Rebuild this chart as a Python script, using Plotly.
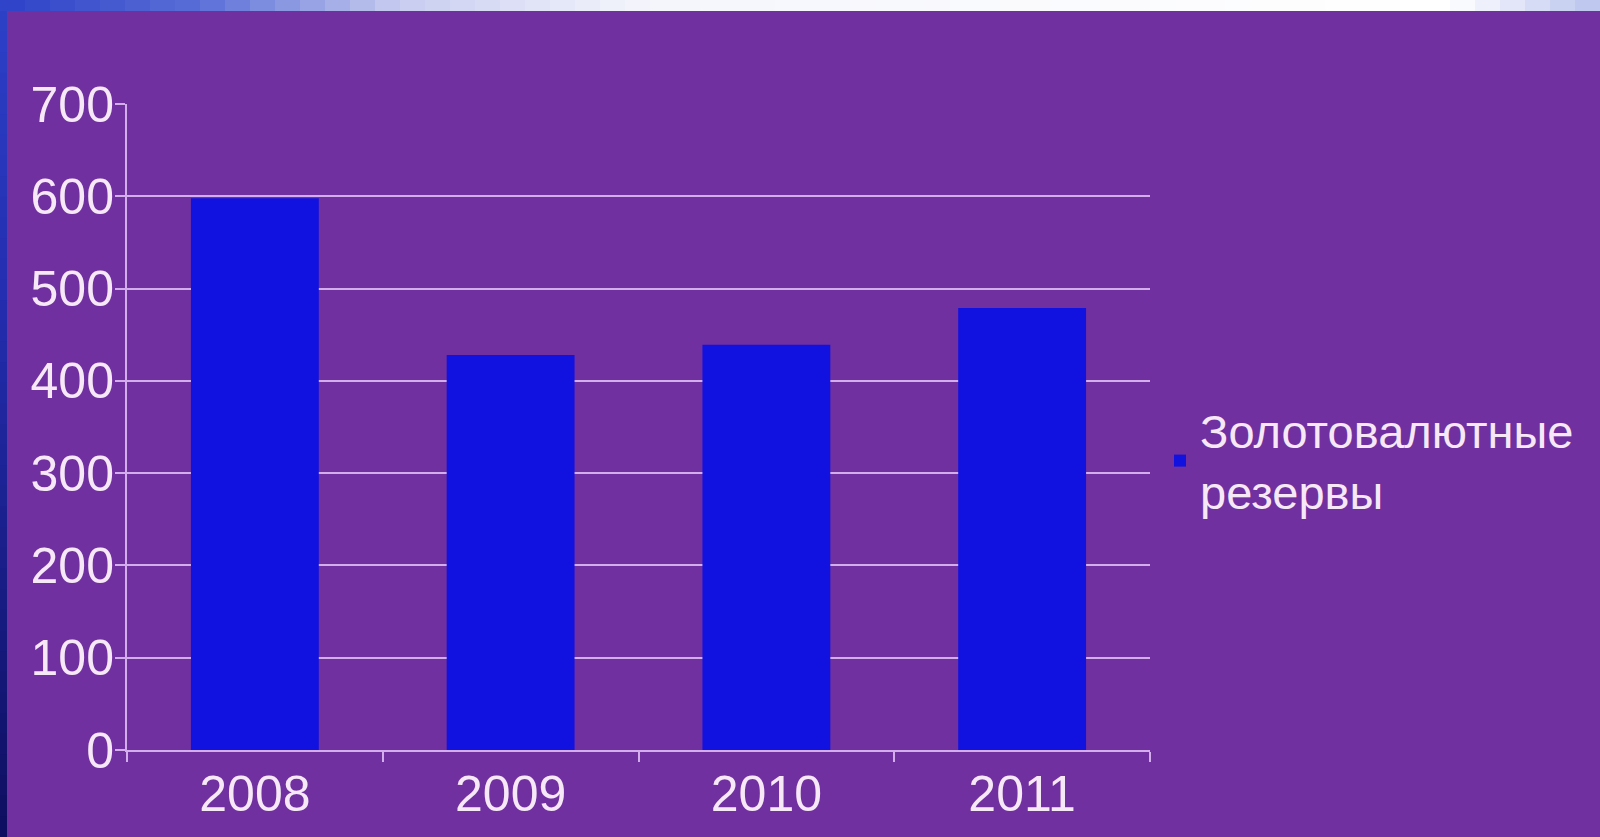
import plotly.graph_objects as go

years = ["2008", "2009", "2010", "2011"]
reserves = [598, 428, 439, 479]
series_name = "Золотовалютные<br>резервы"
y_ticks = [0, 100, 200, 300, 400, 500, 600, 700]

W, H = 1600, 837
L, R, T, B = 127, 450, 104, 87
pw, ph = W - L - R, H - T - B


def px2x(x):
    return (x - L) / pw


def py2y(y):
    return (H - B - y) / ph


def lerp(c1, c2, t):
    return "rgb(%d,%d,%d)" % tuple(round(a + (b - a) * t) for a, b in zip(c1, c2))


def grad(stops, v):
    for j in range(len(stops) - 1):
        if stops[j][0] <= v <= stops[j + 1][0]:
            t = (v - stops[j][0]) / (stops[j + 1][0] - stops[j][0])
            return lerp(stops[j][1], stops[j + 1][1], t)
    return lerp(stops[-1][1], stops[-1][1], 0)


fig = go.Figure()
fig.add_trace(go.Bar(
    x=years, y=reserves, name=series_name,
    marker=dict(color="#1212E0", line=dict(width=0)),
    width=0.5, showlegend=True,
))

shapes = []
# top decorative strip
top_stops = [(0, (45, 65, 200)), (200, (90, 110, 215)), (400, (200, 205, 240)),
             (650, (245, 246, 252)), (1450, (255, 255, 255)), (1600, (185, 195, 238))]
n = 64
for i in range(n):
    x0 = W * i / n
    x1 = W * (i + 1) / n
    shapes.append(dict(type="rect", xref="paper", yref="paper",
                       x0=px2x(x0), x1=px2x(x1) + 0.001, y0=py2y(11), y1=py2y(0) + 0.01,
                       fillcolor=grad(top_stops, (x0 + x1) / 2),
                       line=dict(width=0), layer="below"))
# left decorative strip
left_stops = [(0, (45, 65, 200)), (300, (35, 45, 175)), (837, (14, 14, 95))]
m = 40
for i in range(m):
    y0 = 11 + (H - 11) * i / m
    y1 = 11 + (H - 11) * (i + 1) / m
    shapes.append(dict(type="rect", xref="paper", yref="paper",
                       x0=px2x(0) - 0.01, x1=px2x(7), y0=py2y(y1) - 0.003, y1=py2y(y0),
                       fillcolor=grad(left_stops, (y0 + y1) / 2),
                       line=dict(width=0), layer="below"))

txt = "#F7E8F7"
grid = "#D4AEEC"
fig.update_layout(
    width=W, height=H,
    margin=dict(l=L, r=R, t=T, b=B),
    paper_bgcolor="#7030A0", plot_bgcolor="#7030A0",
    font=dict(family="Liberation Sans, Arial, sans-serif", color=txt, size=48),
    showlegend=True,
    legend=dict(x=px2x(1160), y=py2y(461), xanchor="left", yanchor="middle",
                bgcolor="rgba(0,0,0,0)", font=dict(size=47, color=txt),
                itemwidth=30, tracegroupgap=0, valign="middle"),
    shapes=shapes,
    xaxis=dict(
        showgrid=False, showline=True, linecolor=grid, linewidth=2,
        ticks="outside", tickson="boundaries", ticklen=10, tickcolor=grid, tickwidth=2,
        tickfont=dict(size=50, color=txt), ticklabelstandoff=-1,
    ),
    yaxis=dict(
        range=[0, 700], tickvals=y_ticks, showgrid=True, gridcolor=grid, gridwidth=2,
        showline=True, linecolor=grid, linewidth=2, zeroline=False,
        ticks="outside", ticklen=10, tickcolor=grid, tickwidth=2,
        tickfont=dict(size=50, color=txt), ticklabelstandoff=-9,
    ),
)

fig.write_html("out.html", config={"displayModeBar": False},
               post_script="document.body.style.margin='0px';")
